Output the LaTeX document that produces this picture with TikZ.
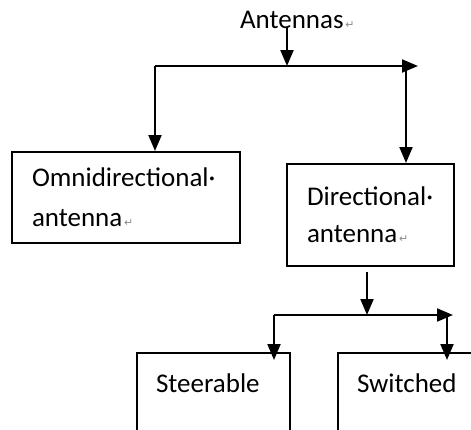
\documentclass[tikz,border=0pt]{standalone}
\usepackage{fontspec}
\setmainfont{Carlito}
\newfontfamily\marksfont{DejaVu Sans}
\usepackage{xcolor}
\usetikzlibrary{positioning,arrows.meta,calc}
\newcommand\parmk{{\marksfont\fontsize{11}{11}\selectfont\color{black!45}\,↵}}

\begin{document}
\begin{tikzpicture}[x=1pt,y=-1pt,line width=2pt,font=\fontsize{27}{40}\selectfont]
  \tikzstyle{box}=[draw,rectangle,align=left,inner ysep=0pt]
  \tikzstyle{arr}=[-{Triangle[length=16pt,width=13pt]}]
  \useasboundingbox (0,0) rectangle (471,429);
  \clip (0,0) rectangle (471,429);
  \node[anchor=base west,inner sep=0pt] (ant) at (239,28) {Antennas\parmk};
  \node[box,minimum width=228,minimum height=91,text width=188,inner xsep=20] (omni) at (126,197.5) {Omnidirectional·\\antenna\parmk};
  \node[box,minimum width=167,minimum height=102,text width=127,inner xsep=20] (dir) at (370.5,215) {Directional·\\[-3pt]antenna\parmk};
  \node[draw,minimum width=153,minimum height=130,anchor=north west] (steer) at (136,352) {};
  \node[draw,minimum width=180,minimum height=130,anchor=north west] (sw) at (337,352) {};
  \node[anchor=west,inner sep=0pt] (steertxt) at (155,383) {Steerable};
  \node[anchor=west,inner sep=0pt] (swtxt) at (356,383) {Switched};
  % first level
  \coordinate (top) at (287,27);
  \coordinate (bl) at (155,66);
  \coordinate (br) at (418,66);
  \coordinate (bd) at (406,70);
  \draw[arr] (top) -- (top |- bl);
  \draw[arr] (bl) -- (br);
  \draw[arr] (bl) -- (bl |- omni.north);
  \draw[arr] (bd) -- (bd |- dir.north);
  % second level
  \coordinate (c2) at (367,315);
  \coordinate (l2) at (274,315);
  \coordinate (r2) at (453,315);
  \coordinate (rd) at (447,315);
  \draw[arr,shorten <=5pt] (dir.south -| c2) -- (c2);
  \draw[arr] (l2) -- (r2);
  \draw[arr,shorten >=-8pt] (l2) -- (l2 |- steer.north);
  \draw[arr,shorten >=-8pt] (rd) -- (rd |- sw.north);
\end{tikzpicture}
\end{document}
